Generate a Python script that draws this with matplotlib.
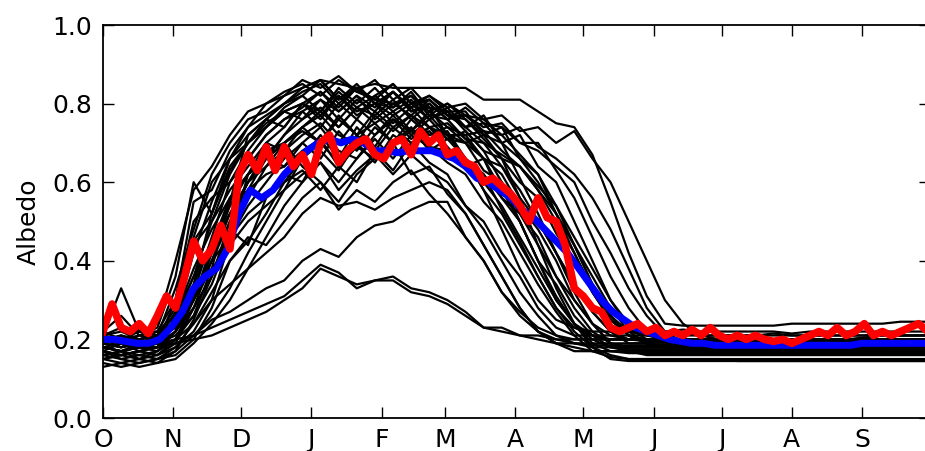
import numpy as np
from matplotlib import pyplot as plt

# days since 1 October
days_ens = np.arange(0, 369, 8)
days_mean = np.arange(0, 366, 5)
days_obs = np.arange(0, 365, 4)

month_start = [0, 31, 61, 92, 123, 151, 182, 212, 243, 273, 304, 335]
month_labels = ['O', 'N', 'D', 'J', 'F', 'M', 'A', 'M', 'J', 'J', 'A', 'S']

# ensemble members (albedo every 8 days)
ens = [
    [0.20, 0.19, 0.18, 0.19, 0.21, 0.26, 0.38, 0.55, 0.72, 0.76,
     0.80, 0.84, 0.86, 0.85, 0.84, 0.85, 0.84, 0.84, 0.84, 0.84,
     0.84, 0.81, 0.81, 0.81, 0.78, 0.75, 0.74, 0.67, 0.55, 0.42,
     0.31, 0.24, 0.235, 0.235, 0.235, 0.235, 0.235, 0.235, 0.24, 0.24,
     0.24, 0.24, 0.24, 0.24, 0.245, 0.245, 0.245],
    [0.17, 0.16, 0.17, 0.16, 0.18, 0.22, 0.30, 0.45, 0.62, 0.70,
     0.74, 0.80, 0.78, 0.83, 0.79, 0.82, 0.85, 0.80, 0.82, 0.79,
     0.80, 0.76, 0.77, 0.73, 0.74, 0.70, 0.73, 0.66, 0.60, 0.50,
     0.40, 0.30, 0.24, 0.21, 0.20, 0.20, 0.205, 0.20, 0.20, 0.20,
     0.20, 0.20, 0.205, 0.21, 0.21, 0.21, 0.21],
    [0.19, 0.21, 0.18, 0.20, 0.24, 0.30, 0.42, 0.55, 0.66, 0.72,
     0.76, 0.79, 0.83, 0.78, 0.82, 0.79, 0.83, 0.78, 0.80, 0.76,
     0.79, 0.75, 0.74, 0.70, 0.68, 0.64, 0.60, 0.50, 0.42, 0.33,
     0.26, 0.21, 0.19, 0.18, 0.18, 0.18, 0.175, 0.18, 0.18, 0.18,
     0.18, 0.175, 0.18, 0.18, 0.185, 0.185, 0.185],
    [0.21, 0.22, 0.20, 0.21, 0.28, 0.45, 0.52, 0.63, 0.70, 0.74,
     0.78, 0.80, 0.76, 0.82, 0.78, 0.80, 0.77, 0.80, 0.76, 0.78,
     0.74, 0.75, 0.70, 0.66, 0.60, 0.52, 0.42, 0.33, 0.26, 0.22,
     0.21, 0.21, 0.215, 0.21, 0.21, 0.21, 0.21, 0.215, 0.21, 0.21,
     0.21, 0.21, 0.21, 0.215, 0.21, 0.21, 0.21],
    [0.15, 0.14, 0.15, 0.14, 0.17, 0.25, 0.36, 0.50, 0.60, 0.66,
     0.72, 0.76, 0.79, 0.74, 0.79, 0.75, 0.78, 0.73, 0.77, 0.72,
     0.72, 0.66, 0.64, 0.56, 0.50, 0.42, 0.34, 0.27, 0.22, 0.19,
     0.19, 0.19, 0.19, 0.185, 0.19, 0.19, 0.19, 0.19, 0.185, 0.19,
     0.19, 0.19, 0.19, 0.19, 0.19, 0.19, 0.19],
    [0.18, 0.17, 0.18, 0.19, 0.30, 0.55, 0.58, 0.68, 0.74, 0.77,
     0.80, 0.83, 0.85, 0.80, 0.84, 0.81, 0.80, 0.82, 0.77, 0.76,
     0.71, 0.66, 0.58, 0.50, 0.40, 0.31, 0.24, 0.19, 0.17, 0.165,
     0.165, 0.165, 0.165, 0.165, 0.165, 0.165, 0.165, 0.165, 0.165, 0.165,
     0.165, 0.165, 0.165, 0.165, 0.165, 0.165, 0.165],
    [0.22, 0.20, 0.21, 0.22, 0.26, 0.38, 0.48, 0.56, 0.62, 0.66,
     0.70, 0.73, 0.70, 0.76, 0.72, 0.78, 0.74, 0.77, 0.72, 0.73,
     0.66, 0.62, 0.53, 0.45, 0.36, 0.28, 0.23, 0.21, 0.20, 0.20,
     0.20, 0.205, 0.20, 0.20, 0.20, 0.20, 0.20, 0.195, 0.20, 0.20,
     0.20, 0.20, 0.20, 0.20, 0.20, 0.20, 0.20],
    [0.16, 0.15, 0.14, 0.15, 0.16, 0.20, 0.28, 0.40, 0.45, 0.52,
     0.60, 0.66, 0.70, 0.65, 0.72, 0.68, 0.74, 0.70, 0.73, 0.68,
     0.66, 0.58, 0.52, 0.44, 0.36, 0.28, 0.22, 0.18, 0.16, 0.15,
     0.15, 0.15, 0.15, 0.15, 0.15, 0.145, 0.145, 0.145, 0.145, 0.145,
     0.145, 0.145, 0.145, 0.145, 0.145, 0.145, 0.145],
    [0.20, 0.19, 0.20, 0.21, 0.33, 0.48, 0.62, 0.70, 0.76, 0.78,
     0.82, 0.84, 0.86, 0.81, 0.84, 0.80, 0.83, 0.78, 0.79, 0.72,
     0.66, 0.58, 0.48, 0.38, 0.30, 0.25, 0.23, 0.22, 0.22, 0.22,
     0.22, 0.22, 0.225, 0.22, 0.22, 0.22, 0.22, 0.22, 0.215, 0.22,
     0.22, 0.22, 0.22, 0.22, 0.22, 0.22, 0.22],
    [0.17, 0.16, 0.17, 0.18, 0.22, 0.32, 0.40, 0.46, 0.52, 0.56,
     0.60, 0.63, 0.58, 0.64, 0.60, 0.68, 0.63, 0.70, 0.65, 0.62,
     0.54, 0.48, 0.40, 0.32, 0.26, 0.21, 0.19, 0.185, 0.185, 0.185,
     0.185, 0.185, 0.185, 0.185, 0.185, 0.185, 0.185, 0.185, 0.185, 0.185,
     0.185, 0.185, 0.185, 0.185, 0.185, 0.185, 0.185],
    [0.19, 0.18, 0.19, 0.20, 0.24, 0.34, 0.45, 0.54, 0.58, 0.62,
     0.64, 0.68, 0.71, 0.64, 0.69, 0.66, 0.70, 0.62, 0.64, 0.57,
     0.52, 0.44, 0.36, 0.28, 0.22, 0.19, 0.17, 0.17, 0.17, 0.17,
     0.17, 0.17, 0.17, 0.17, 0.17, 0.17, 0.17, 0.17, 0.17, 0.17,
     0.17, 0.17, 0.17, 0.17, 0.17, 0.17, 0.17],
    [0.14, 0.13, 0.14, 0.15, 0.18, 0.24, 0.32, 0.40, 0.46, 0.44,
     0.50, 0.56, 0.60, 0.53, 0.58, 0.55, 0.60, 0.63, 0.57, 0.52,
     0.46, 0.40, 0.32, 0.26, 0.22, 0.20, 0.20, 0.20, 0.20, 0.20,
     0.20, 0.20, 0.20, 0.20, 0.20, 0.20, 0.20, 0.20, 0.20, 0.20,
     0.20, 0.20, 0.20, 0.20, 0.20, 0.20, 0.20],
    [0.21, 0.23, 0.22, 0.24, 0.40, 0.58, 0.64, 0.72, 0.78, 0.80,
     0.83, 0.85, 0.82, 0.86, 0.83, 0.81, 0.85, 0.80, 0.81, 0.77,
     0.76, 0.71, 0.66, 0.56, 0.44, 0.33, 0.24, 0.18, 0.15, 0.145,
     0.145, 0.145, 0.145, 0.145, 0.145, 0.145, 0.145, 0.145, 0.145, 0.145,
     0.145, 0.145, 0.145, 0.145, 0.145, 0.145, 0.145],
    [0.18, 0.19, 0.18, 0.17, 0.20, 0.26, 0.34, 0.46, 0.56, 0.64,
     0.70, 0.74, 0.78, 0.74, 0.79, 0.77, 0.81, 0.76, 0.80, 0.76,
     0.77, 0.74, 0.75, 0.70, 0.70, 0.63, 0.56, 0.46, 0.36, 0.28,
     0.22, 0.19, 0.18, 0.18, 0.18, 0.18, 0.18, 0.18, 0.18, 0.18,
     0.18, 0.18, 0.18, 0.18, 0.18, 0.18, 0.18],
    [0.20, 0.21, 0.20, 0.22, 0.26, 0.36, 0.44, 0.52, 0.60, 0.64,
     0.68, 0.72, 0.75, 0.70, 0.76, 0.72, 0.77, 0.72, 0.76, 0.71,
     0.73, 0.68, 0.66, 0.60, 0.56, 0.47, 0.40, 0.32, 0.25, 0.21,
     0.19, 0.19, 0.19, 0.19, 0.19, 0.19, 0.19, 0.19, 0.19, 0.19,
     0.19, 0.19, 0.19, 0.19, 0.19, 0.19, 0.19],
    [0.16, 0.17, 0.16, 0.17, 0.22, 0.30, 0.38, 0.44, 0.50, 0.54,
     0.58, 0.62, 0.65, 0.58, 0.63, 0.67, 0.62, 0.67, 0.63, 0.60,
     0.54, 0.50, 0.42, 0.36, 0.28, 0.23, 0.21, 0.21, 0.21, 0.21,
     0.21, 0.21, 0.21, 0.21, 0.21, 0.21, 0.21, 0.21, 0.21, 0.21,
     0.21, 0.21, 0.21, 0.21, 0.21, 0.21, 0.21],
    [0.19, 0.18, 0.20, 0.19, 0.25, 0.42, 0.55, 0.66, 0.72, 0.76,
     0.80, 0.82, 0.86, 0.81, 0.85, 0.80, 0.83, 0.79, 0.82, 0.78,
     0.78, 0.72, 0.70, 0.61, 0.52, 0.42, 0.32, 0.24, 0.19, 0.17,
     0.16, 0.16, 0.16, 0.16, 0.16, 0.16, 0.16, 0.16, 0.16, 0.16,
     0.16, 0.16, 0.16, 0.16, 0.16, 0.16, 0.16],
    [0.15, 0.16, 0.15, 0.16, 0.19, 0.28, 0.40, 0.52, 0.60, 0.68,
     0.70, 0.74, 0.77, 0.72, 0.70, 0.77, 0.73, 0.77, 0.74, 0.75,
     0.71, 0.70, 0.67, 0.64, 0.59, 0.54, 0.46, 0.38, 0.30, 0.24,
     0.21, 0.20, 0.20, 0.20, 0.20, 0.20, 0.20, 0.20, 0.20, 0.20,
     0.20, 0.20, 0.20, 0.20, 0.20, 0.20, 0.20],
    [0.17, 0.15, 0.16, 0.15, 0.17, 0.21, 0.26, 0.33, 0.42, 0.50,
     0.58, 0.66, 0.72, 0.66, 0.74, 0.69, 0.76, 0.71, 0.74, 0.69,
     0.64, 0.66, 0.56, 0.50, 0.40, 0.34, 0.26, 0.21, 0.18, 0.17,
     0.17, 0.165, 0.17, 0.17, 0.165, 0.17, 0.17, 0.17, 0.165, 0.165,
     0.165, 0.17, 0.17, 0.17, 0.17, 0.17, 0.17],
    [0.22, 0.26, 0.21, 0.23, 0.36, 0.60, 0.52, 0.64, 0.70, 0.76,
     0.74, 0.80, 0.77, 0.82, 0.77, 0.80, 0.75, 0.79, 0.74, 0.72,
     0.70, 0.63, 0.60, 0.52, 0.46, 0.36, 0.30, 0.24, 0.21, 0.20,
     0.20, 0.20, 0.20, 0.20, 0.20, 0.20, 0.20, 0.20, 0.20, 0.20,
     0.20, 0.20, 0.20, 0.20, 0.20, 0.20, 0.20],
    [0.16, 0.17, 0.15, 0.17, 0.20, 0.28, 0.36, 0.48, 0.44, 0.56,
     0.62, 0.60, 0.68, 0.63, 0.70, 0.65, 0.72, 0.69, 0.74, 0.71,
     0.70, 0.72, 0.66, 0.64, 0.58, 0.52, 0.44, 0.36, 0.28, 0.22,
     0.19, 0.18, 0.18, 0.18, 0.18, 0.18, 0.18, 0.18, 0.18, 0.18,
     0.18, 0.18, 0.18, 0.18, 0.18, 0.18, 0.18],
    [0.20, 0.19, 0.21, 0.20, 0.24, 0.34, 0.52, 0.66, 0.74, 0.80,
     0.82, 0.86, 0.84, 0.87, 0.83, 0.86, 0.81, 0.84, 0.79, 0.78,
     0.73, 0.68, 0.60, 0.50, 0.40, 0.30, 0.24, 0.21, 0.20, 0.20,
     0.20, 0.20, 0.20, 0.20, 0.20, 0.20, 0.20, 0.20, 0.20, 0.20,
     0.20, 0.20, 0.20, 0.20, 0.20, 0.20, 0.20],
    [0.18, 0.17, 0.19, 0.18, 0.22, 0.30, 0.44, 0.56, 0.62, 0.66,
     0.70, 0.64, 0.60, 0.55, 0.62, 0.66, 0.70, 0.73, 0.69, 0.68,
     0.65, 0.60, 0.54, 0.46, 0.38, 0.30, 0.24, 0.20, 0.18, 0.18,
     0.18, 0.18, 0.18, 0.18, 0.18, 0.18, 0.18, 0.18, 0.18, 0.18,
     0.18, 0.18, 0.18, 0.18, 0.18, 0.18, 0.18],
    [0.19, 0.20, 0.19, 0.21, 0.23, 0.32, 0.46, 0.60, 0.68, 0.74,
     0.78, 0.80, 0.83, 0.79, 0.84, 0.80, 0.79, 0.83, 0.77, 0.80,
     0.77, 0.76, 0.72, 0.74, 0.69, 0.66, 0.62, 0.56, 0.48, 0.38,
     0.28, 0.22, 0.19, 0.19, 0.19, 0.19, 0.19, 0.19, 0.19, 0.19,
     0.19, 0.19, 0.19, 0.19, 0.19, 0.19, 0.19],
    [0.13, 0.14, 0.13, 0.14, 0.15, 0.19, 0.24, 0.30, 0.38, 0.46,
     0.54, 0.60, 0.65, 0.60, 0.66, 0.71, 0.66, 0.72, 0.69, 0.65,
     0.62, 0.55, 0.50, 0.42, 0.34, 0.27, 0.21, 0.17, 0.155, 0.15,
     0.15, 0.15, 0.15, 0.15, 0.15, 0.15, 0.15, 0.15, 0.15, 0.15,
     0.15, 0.15, 0.15, 0.15, 0.15, 0.15, 0.15],
    [0.21, 0.33, 0.22, 0.22, 0.30, 0.50, 0.56, 0.60, 0.66, 0.72,
     0.76, 0.78, 0.81, 0.76, 0.81, 0.78, 0.83, 0.79, 0.81, 0.77,
     0.77, 0.73, 0.72, 0.67, 0.62, 0.54, 0.44, 0.34, 0.26, 0.21,
     0.19, 0.18, 0.18, 0.18, 0.18, 0.18, 0.18, 0.18, 0.18, 0.18,
     0.18, 0.18, 0.18, 0.18, 0.18, 0.18, 0.18],
    [0.20, 0.18, 0.19, 0.20, 0.23, 0.31, 0.40, 0.50, 0.58, 0.66,
     0.72, 0.78, 0.74, 0.80, 0.76, 0.82, 0.78, 0.81, 0.76, 0.79,
     0.74, 0.77, 0.70, 0.72, 0.64, 0.60, 0.50, 0.40, 0.30, 0.23,
     0.20, 0.20, 0.20, 0.20, 0.20, 0.20, 0.20, 0.20, 0.20, 0.20,
     0.20, 0.20, 0.20, 0.20, 0.20, 0.20, 0.20],
    [0.17, 0.19, 0.17, 0.18, 0.26, 0.44, 0.50, 0.58, 0.64, 0.70,
     0.68, 0.74, 0.70, 0.77, 0.72, 0.75, 0.70, 0.74, 0.68, 0.71,
     0.66, 0.62, 0.56, 0.52, 0.44, 0.36, 0.28, 0.22, 0.19, 0.18,
     0.18, 0.18, 0.18, 0.18, 0.18, 0.18, 0.18, 0.18, 0.18, 0.18,
     0.18, 0.18, 0.18, 0.18, 0.18, 0.18, 0.18],
    [0.21, 0.20, 0.22, 0.21, 0.25, 0.36, 0.50, 0.62, 0.70, 0.74,
     0.79, 0.82, 0.78, 0.84, 0.80, 0.84, 0.79, 0.82, 0.78, 0.80,
     0.76, 0.72, 0.74, 0.66, 0.62, 0.52, 0.44, 0.34, 0.26, 0.21,
     0.20, 0.20, 0.20, 0.20, 0.20, 0.20, 0.20, 0.20, 0.20, 0.20,
     0.20, 0.20, 0.20, 0.20, 0.20, 0.20, 0.20],
    [0.15, 0.16, 0.17, 0.16, 0.20, 0.30, 0.42, 0.54, 0.62, 0.66,
     0.64, 0.70, 0.66, 0.73, 0.68, 0.74, 0.70, 0.76, 0.72, 0.74,
     0.70, 0.66, 0.62, 0.54, 0.48, 0.40, 0.30, 0.24, 0.19, 0.175,
     0.175, 0.175, 0.175, 0.175, 0.175, 0.175, 0.175, 0.175, 0.175, 0.175,
     0.175, 0.175, 0.175, 0.175, 0.175, 0.175, 0.175],
    [0.19, 0.21, 0.19, 0.20, 0.27, 0.46, 0.60, 0.66, 0.70, 0.75,
     0.78, 0.76, 0.81, 0.78, 0.82, 0.76, 0.80, 0.77, 0.81, 0.77,
     0.74, 0.70, 0.64, 0.58, 0.50, 0.42, 0.34, 0.27, 0.22, 0.20,
     0.195, 0.195, 0.195, 0.195, 0.195, 0.195, 0.195, 0.195, 0.195, 0.195,
     0.195, 0.195, 0.195, 0.195, 0.195, 0.195, 0.195],
    [0.18, 0.17, 0.18, 0.19, 0.22, 0.28, 0.36, 0.46, 0.54, 0.60,
     0.66, 0.70, 0.74, 0.68, 0.66, 0.72, 0.76, 0.73, 0.78, 0.74,
     0.72, 0.73, 0.68, 0.64, 0.58, 0.50, 0.42, 0.32, 0.25, 0.21,
     0.19, 0.19, 0.19, 0.19, 0.19, 0.19, 0.19, 0.19, 0.19, 0.19,
     0.19, 0.19, 0.19, 0.19, 0.19, 0.19, 0.19],
    # thin snowpack years
    [0.17, 0.16, 0.17, 0.18, 0.19, 0.21, 0.25, 0.27, 0.30, 0.33,
     0.35, 0.40, 0.43, 0.41, 0.46, 0.49, 0.50, 0.53, 0.55, 0.55,
     0.46, 0.40, 0.32, 0.27, 0.23, 0.21, 0.20, 0.20, 0.20, 0.20,
     0.20, 0.20, 0.20, 0.20, 0.20, 0.20, 0.20, 0.20, 0.20, 0.20,
     0.20, 0.20, 0.20, 0.20, 0.20, 0.20, 0.20],
    [0.18, 0.17, 0.18, 0.18, 0.20, 0.24, 0.30, 0.34, 0.38, 0.42,
     0.46, 0.52, 0.56, 0.54, 0.55, 0.53, 0.56, 0.58, 0.60, 0.58,
     0.52, 0.44, 0.36, 0.28, 0.22, 0.19, 0.19, 0.19, 0.19, 0.19,
     0.19, 0.19, 0.19, 0.19, 0.19, 0.19, 0.19, 0.19, 0.19, 0.19,
     0.19, 0.19, 0.19, 0.19, 0.19, 0.19, 0.19],
    [0.19, 0.18, 0.19, 0.19, 0.20, 0.21, 0.23, 0.25, 0.27, 0.29,
     0.31, 0.35, 0.39, 0.37, 0.33, 0.35, 0.36, 0.33, 0.32, 0.30,
     0.27, 0.23, 0.23, 0.21, 0.21, 0.20, 0.19, 0.18, 0.18, 0.18,
     0.18, 0.18, 0.18, 0.18, 0.18, 0.18, 0.18, 0.18, 0.18, 0.18,
     0.18, 0.18, 0.18, 0.18, 0.18, 0.18, 0.18],
    [0.18, 0.17, 0.18, 0.18, 0.19, 0.20, 0.21, 0.23, 0.25, 0.27,
     0.30, 0.33, 0.38, 0.36, 0.34, 0.35, 0.35, 0.32, 0.31, 0.29,
     0.26, 0.23, 0.22, 0.21, 0.20, 0.19, 0.18, 0.17, 0.17, 0.17,
     0.17, 0.17, 0.17, 0.17, 0.17, 0.17, 0.17, 0.17, 0.17, 0.17,
     0.17, 0.17, 0.17, 0.17, 0.17, 0.17, 0.17],
]

# ensemble mean, every 5 days
albedo_mean = [
    0.20, 0.20, 0.195, 0.19, 0.19, 0.20, 0.23, 0.27, 0.33, 0.36,
    0.38, 0.43, 0.52, 0.58, 0.56, 0.58, 0.62, 0.65, 0.68, 0.70,
    0.71, 0.70, 0.71, 0.70, 0.68, 0.68, 0.675, 0.68, 0.68, 0.68,
    0.67, 0.66, 0.64, 0.61, 0.60, 0.58, 0.56, 0.53, 0.51, 0.48,
    0.45, 0.42, 0.38, 0.34, 0.30, 0.27, 0.25, 0.23, 0.22, 0.21,
    0.20, 0.195, 0.19, 0.19, 0.185, 0.185, 0.185, 0.185, 0.185, 0.185,
    0.185, 0.185, 0.185, 0.185, 0.185, 0.185, 0.185, 0.19, 0.19, 0.19,
    0.19, 0.19, 0.19, 0.19,
]

# observed albedo, every 4 days
albedo_obs = [
    0.22, 0.29, 0.23, 0.22, 0.24, 0.215, 0.26, 0.31, 0.28, 0.36,
    0.45, 0.40, 0.43, 0.49, 0.43, 0.62, 0.67, 0.63, 0.69, 0.63,
    0.69, 0.64, 0.67, 0.62, 0.70, 0.72, 0.65, 0.68, 0.70, 0.71,
    0.67, 0.66, 0.70, 0.71, 0.67, 0.73, 0.70, 0.72, 0.67, 0.68,
    0.65, 0.64, 0.60, 0.61, 0.59, 0.57, 0.54, 0.50, 0.56, 0.51,
    0.50, 0.44, 0.33, 0.31, 0.28, 0.27, 0.23, 0.22, 0.23, 0.24,
    0.22, 0.23, 0.21, 0.22, 0.21, 0.225, 0.21, 0.23, 0.21, 0.20,
    0.21, 0.20, 0.21, 0.20, 0.195, 0.20, 0.19, 0.20, 0.21, 0.22,
    0.21, 0.23, 0.21, 0.22, 0.24, 0.21, 0.22, 0.21, 0.22, 0.23,
    0.24, 0.22,
]

plt.rcParams['font.family'] = 'DejaVu Sans'
fig = plt.figure(figsize=(9.25, 4.51), dpi=100)
ax = fig.add_axes([103/925, 33/451, 827/925, 393/451])

for v in ens:
    ax.plot(days_ens, v, color='k', lw=1.6)
ax.plot(days_mean, albedo_mean, color='#0000ff', lw=5)
ax.plot(days_obs, albedo_obs, color='#ff0000', lw=5.5)

ax.set_xlim(0, 365)
ax.set_ylim(0, 1)
ax.set_xticks(month_start)
ax.set_xticklabels(month_labels)
ax.set_yticks(np.arange(0, 1.01, 0.2))
ax.set_yticklabels([f'{t:.1f}' for t in np.arange(0, 1.01, 0.2)])
ax.tick_params(direction='in', top=True, right=True, length=8, width=1,
               labelsize=18, colors='k')
ax.tick_params(axis='x', pad=7)
ax.tick_params(axis='y', pad=8)
ax.set_ylabel('Albedo', fontsize=18, labelpad=8)
for s in ax.spines.values():
    s.set_linewidth(1.3)

fig.savefig('out.png', dpi=100)
